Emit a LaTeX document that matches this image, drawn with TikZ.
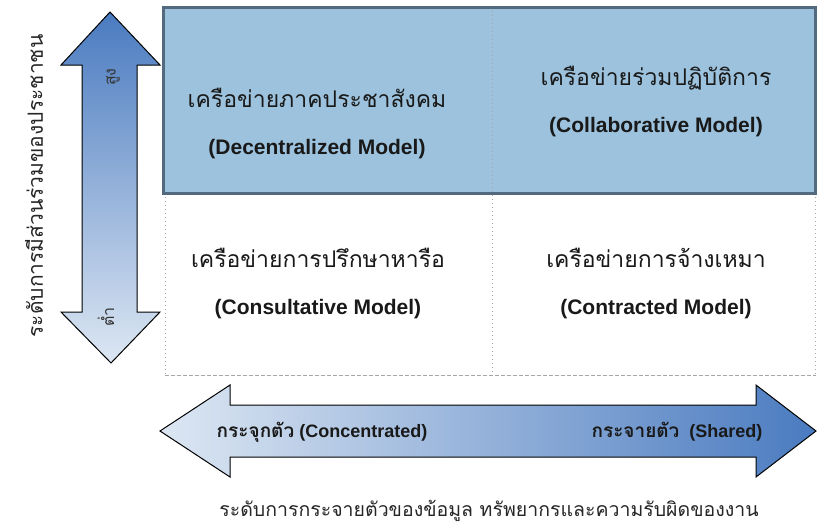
\documentclass[tikz,border=0pt]{standalone}
\usepackage{fontspec}
\setmainfont{Liberation Sans}
\newfontfamily\thaifont[Script=Thai]{Loma}
\usetikzlibrary{positioning,calc}

\definecolor{cellblue}{HTML}{9CC2DD}
\definecolor{rimblue}{HTML}{52697E}
\definecolor{arrowdark}{HTML}{4A7BC0}
\definecolor{arrowlight}{HTML}{DDE7F3}

\newcommand{\thaicell}[1]{{\thaifont\fontsize{23}{47}\selectfont #1}}

\begin{document}
\begin{tikzpicture}[
  x=1pt, y=-1pt,
  cell/.style={align=center, text=black!90, font=\fontsize{21}{47}\selectfont},
  axis/.style={font=\thaifont\fontsize{19.5}{22}\selectfont, text=black!85},
  tag/.style={font=\bfseries\fontsize{18}{22}\selectfont, text=black!90},
  endlabel/.style={rotate=90, font=\thaifont\fontsize{16}{18}\selectfont, text=black!80},
  grid/.style={gray!70, line width=0.6pt, dash pattern=on 1pt off 3pt},
  bigarrow/.style={draw=black, line width=1pt, line join=miter}
]
\useasboundingbox (0,0) rectangle (817,525);

% upper row and cell borders
\fill[cellblue] (163,7) rectangle (815,193);
\draw[grid] (492,7) -- (492,375);
\draw[grid] (165,193) -- (165,375);
\draw[grid] (815,193) -- (815,375);
\draw[gray!70, line width=0.6pt, dash pattern=on 4pt off 2pt] (165,375) -- (816,375);
\draw[rimblue, line width=3pt] (163,7) rectangle (815,193);

\node[cell] (decent) at (317,124) {\thaicell{เครือข่ายภาคประชาสังคม}\\{\bfseries (Decentralized Model)}};
\node[cell] (collab) at (656,102) {\thaicell{เครือข่ายร่วมปฏิบัติการ}\\{\bfseries (Collaborative Model)}};
\node[cell] (consult) at (318,284) {\thaicell{เครือข่ายการปรึกษาหารือ}\\{\bfseries (Consultative Model)}};
\node[cell] (contract) at (656,284) {\thaicell{เครือข่ายการจ้างเหมา}\\{\bfseries (Contracted Model)}};

% participation axis
\shadedraw[bigarrow, top color=arrowdark, bottom color=arrowlight]
  (110,12) -- (160,65) -- (137,65) -- (137,312) -- (160,312) -- (111,363)
  -- (61,312) -- (82,312) -- (82,65) -- (61,65) -- cycle;
\node[endlabel] (high) at (113,77) {สูง};
\node[endlabel] (low) at (106,317) {ต่ำ};
\node[axis, rotate=90, font=\thaifont\fontsize{21}{24}\selectfont] (partaxis) at (34,186) {ระดับการมีส่วนร่วมของประชาชน};

% spread axis
\shadedraw[bigarrow, left color=arrowlight, middle color=arrowlight!65!arrowdark, right color=arrowdark]
  (160,431) -- (230,385) -- (230,405) -- (756,405) -- (756,385) -- (816,431)
  -- (756,477) -- (756,457) -- (230,457) -- (230,477) -- cycle;
\node[tag] (concent) at (322,432) {{\thaifont\fontsize{19}{22}\selectfont กระจุกตัว} (Concentrated)};
\node[tag] (shared) at (677,432) {{\thaifont\fontsize{19}{22}\selectfont กระจายตัว}\ \ (Shared)};
\node[axis] (spreadaxis) at (489,511) {ระดับการกระจายตัวของข้อมูล ทรัพยากรและความรับผิดของงาน};

\end{tikzpicture}
\end{document}
